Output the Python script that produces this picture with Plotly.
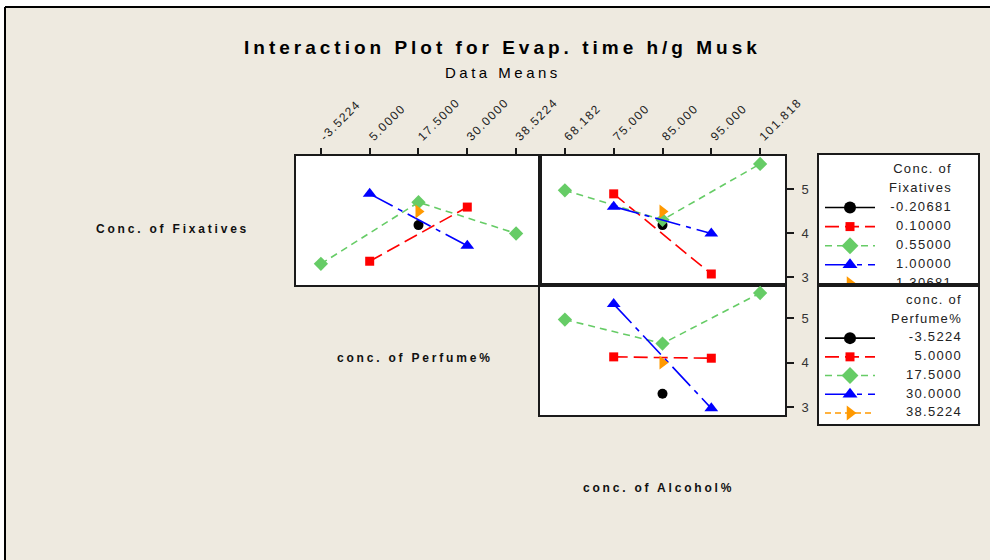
import plotly.graph_objects as go

W, H = 990, 560

# ---------------- data ----------------
fix_levels = ["-0.20681", "0.10000", "0.55000", "1.00000", "1.30681"]
perf_levels = ["-3.5224", "5.0000", "17.5000", "30.0000", "38.5224"]
alc_levels = ["68.182", "75.000", "85.000", "95.000", "101.818"]

# Panel: response vs Perfume, one line per Fixatives level
fp_x = [["17.5000"], ["5.0000", "30.0000"], ["-3.5224", "17.5000", "38.5224"],
        ["5.0000", "30.0000"], ["17.5000"]]
fp_y = [[4.18], [3.36, 4.59], [3.30, 4.70, 3.99], [4.89, 3.71], [4.49]]

# Panel: response vs Alcohol, one line per Fixatives level
fa_x = [["85.000"], ["75.000", "95.000"], ["68.182", "85.000", "101.818"],
        ["75.000", "95.000"], ["85.000"]]
fa_y = [[4.18], [4.89, 3.07], [4.97, 4.30, 5.57], [4.60, 3.99], [4.49]]

# Panel: response vs Alcohol, one line per Perfume level
pa_x = [["85.000"], ["75.000", "95.000"], ["68.182", "85.000", "101.818"],
        ["75.000", "95.000"], ["85.000"]]
pa_y = [[3.30], [4.13, 4.10], [4.97, 4.43, 5.57], [5.32, 2.97], [4.00]]

y_ticks = [3, 4, 5]

# ---------------- styles ----------------
colors = ["#000000", "#FF0000", "#66CC66", "#0000FF", "#FF9900"]
symbols = ["circle", "square", "diamond", "triangle-up", "triangle-right"]
sizes = [10, 9, 11, 12, 12]
leg_sizes = [12, 9, 13, 13, 13]
dashes = ["solid", "14px,6px", "7px,5px", "26px,6px,5px,6px", "6px,4px"]
BEIGE = "#EEEAE0"
FONT = "Liberation Sans, Arial, sans-serif"


def ls(text, spacing):
    return f'<span style="letter-spacing:{spacing}px">{text}</span>'


def pxx(p):
    return p / W


def pxy(p):
    return 1 - p / H


fig = go.Figure()

# ---------------- data traces ----------------
panels = [(fp_x, fp_y, "x", "y"), (fa_x, fa_y, "x2", "y2"), (pa_x, pa_y, "x3", "y3")]
for xs, ys, xa, ya in panels:
    for i in range(5):
        fig.add_trace(go.Scatter(
            x=xs[i], y=ys[i], xaxis=xa, yaxis=ya, mode="lines+markers",
            line=dict(color=colors[i], width=1.6, dash=dashes[i]),
            marker=dict(symbol=symbols[i], size=sizes[i], color=colors[i]),
            hoverinfo="x+y", showlegend=False))

# ---------------- manual legends ----------------
legends = [("x4", "y4", ["Conc. of", "Fixatives"], fix_levels, 133),
           ("x5", "y5", ["conc. of", "Perfume%"], perf_levels, 143)]
for xa, ya, header, levels, tx in legends:
    fig.add_trace(go.Scatter(
        x=[tx, tx], y=[0, 1], xaxis=xa, yaxis=ya, mode="text",
        text=[ls(h, 1.3) for h in header], textposition="middle left",
        textfont=dict(family=FONT, size=13, color="#222222"),
        hoverinfo="skip", showlegend=False))
    for i, lev in enumerate(levels):
        r = i + 2
        fig.add_trace(go.Scatter(
            x=[6, 56], y=[r, r], xaxis=xa, yaxis=ya, mode="lines",
            line=dict(color=colors[i], width=1.6, dash=dashes[i]),
            hoverinfo="skip", showlegend=False))
        fig.add_trace(go.Scatter(
            x=[31], y=[r], xaxis=xa, yaxis=ya, mode="markers",
            marker=dict(symbol=symbols[i], size=leg_sizes[i], color=colors[i]),
            hoverinfo="skip", showlegend=False))
        fig.add_trace(go.Scatter(
            x=[tx], y=[r], xaxis=xa, yaxis=ya, mode="text",
            text=[ls(lev, 1.3)], textposition="middle left",
            textfont=dict(family=FONT, size=13, color="#222222"),
            hoverinfo="skip", showlegend=False))

# ---------------- axes ----------------
LINE = dict(showline=True, mirror=True, linecolor="#1a1a1a", linewidth=2,
            showgrid=False, zeroline=False, automargin=False)
XTL = [pxx(296), pxx(540)]
XR = [pxx(540), pxx(785)]
YTOP = [pxy(285), pxy(156)]
YBOT = [pxy(415), pxy(285)]
YR = [2.82, 5.75]
tickfont = dict(family=FONT, size=12, color="#222222")

fig.update_layout(
    xaxis=dict(domain=XTL, type="category", categoryorder="array", categoryarray=perf_levels,
               range=[-0.51, 4.49], side="top", anchor="y", ticks="outside", ticklen=6,
               tickwidth=1.5, tickcolor="#1a1a1a", tickangle=-45, tickmode="array",
               tickvals=perf_levels, ticktext=[ls(t, 1.5) for t in perf_levels],
               tickfont=tickfont, **LINE),
    yaxis=dict(domain=YTOP, range=YR, anchor="x", showticklabels=False, ticks="", **LINE),
    xaxis2=dict(domain=XR, type="category", categoryorder="array", categoryarray=alc_levels,
                range=[-0.51, 4.51], side="top", anchor="y2", ticks="outside", ticklen=6,
                tickwidth=1.5, tickcolor="#1a1a1a", tickangle=-45, tickmode="array",
                tickvals=alc_levels, ticktext=[ls(t, 1.5) for t in alc_levels],
                tickfont=tickfont, **LINE),
    yaxis2=dict(domain=YTOP, range=YR, anchor="x2", side="right", ticks="outside", ticklen=7,
                tickwidth=1.5, tickcolor="#1a1a1a", tickvals=y_ticks, ticklabelstandoff=5,
                tickfont=dict(family=FONT, size=13, color="#333333"), **LINE),
    xaxis3=dict(domain=XR, type="category", categoryorder="array", categoryarray=alc_levels,
                range=[-0.51, 4.51], anchor="y3", showticklabels=False, ticks="", **LINE),
    yaxis3=dict(domain=YBOT, range=YR, anchor="x3", side="right", ticks="outside", ticklen=7,
                tickwidth=1.5, tickcolor="#1a1a1a", tickvals=y_ticks, ticklabelstandoff=5,
                tickfont=dict(family=FONT, size=13, color="#333333"), **LINE),
    xaxis4=dict(domain=[pxx(819), pxx(978)], range=[0, 159], anchor="y4",
                showticklabels=False, ticks="", fixedrange=True, **LINE),
    yaxis4=dict(domain=[pxy(285), pxy(155)], range=[6.06, -0.75], anchor="x4",
                showticklabels=False, ticks="", fixedrange=True, **LINE),
    xaxis5=dict(domain=[pxx(819), pxx(978)], range=[0, 159], anchor="y5",
                showticklabels=False, ticks="", fixedrange=True, **LINE),
    yaxis5=dict(domain=[pxy(424), pxy(285)], range=[6.59, -0.84], anchor="x5",
                showticklabels=False, ticks="", fixedrange=True, **LINE),
)

# ---------------- text ----------------
ann = []
ann.append(dict(text=ls("<b>Interaction Plot for Evap. time h/g Musk</b>", 4.0),
                x=pxx(502), y=pxy(47), xref="paper", yref="paper",
                xanchor="center", yanchor="middle", showarrow=False,
                font=dict(family=FONT, size=19, color="#000000")))
ann.append(dict(text=ls("Data Means", 3.5), x=pxx(503), y=pxy(73),
                xref="paper", yref="paper", xanchor="center", yanchor="middle",
                showarrow=False, font=dict(family=FONT, size=15, color="#000000")))
factor_labels = [("Conc. of Fixatives", 172, 229), ("conc. of Perfume%", 415, 358),
                 ("conc. of Alcohol%", 658, 488)]
for txt, cx, cy in factor_labels:
    ann.append(dict(text=ls(f"<b>{txt}</b>", 2.8), x=pxx(cx), y=pxy(cy),
                    xref="paper", yref="paper", xanchor="center", yanchor="middle",
                    showarrow=False, font=dict(family=FONT, size=12, color="#111111")))

shapes = [
    dict(type="rect", xref="paper", yref="paper", x0=0, x1=pxx(5), y0=0, y1=1,
         fillcolor="white", line=dict(width=0), layer="below"),
    dict(type="rect", xref="paper", yref="paper", x0=0, x1=1, y0=pxy(7), y1=1,
         fillcolor="white", line=dict(width=0), layer="below"),
    dict(type="line", xref="paper", yref="paper", x0=pxx(5), x1=pxx(5), y0=0, y1=pxy(7),
         line=dict(color="black", width=2), layer="below"),
    dict(type="line", xref="paper", yref="paper", x0=pxx(5), x1=1, y0=pxy(7), y1=pxy(7),
         line=dict(color="black", width=2), layer="below"),
]

fig.update_layout(
    width=W, height=H, autosize=False,
    margin=dict(l=0, r=0, t=0, b=0, pad=0, autoexpand=False),
    paper_bgcolor=BEIGE, plot_bgcolor="white", showlegend=False,
    annotations=ann, shapes=shapes,
    font=dict(family=FONT),
)

fig.write_html(
    "out.html",
    config={"displayModeBar": False, "responsive": False},
    post_script=("document.body.style.margin='0px';"
                 "document.body.style.overflow='hidden';"
                 "document.documentElement.style.overflow='hidden';"),
)
